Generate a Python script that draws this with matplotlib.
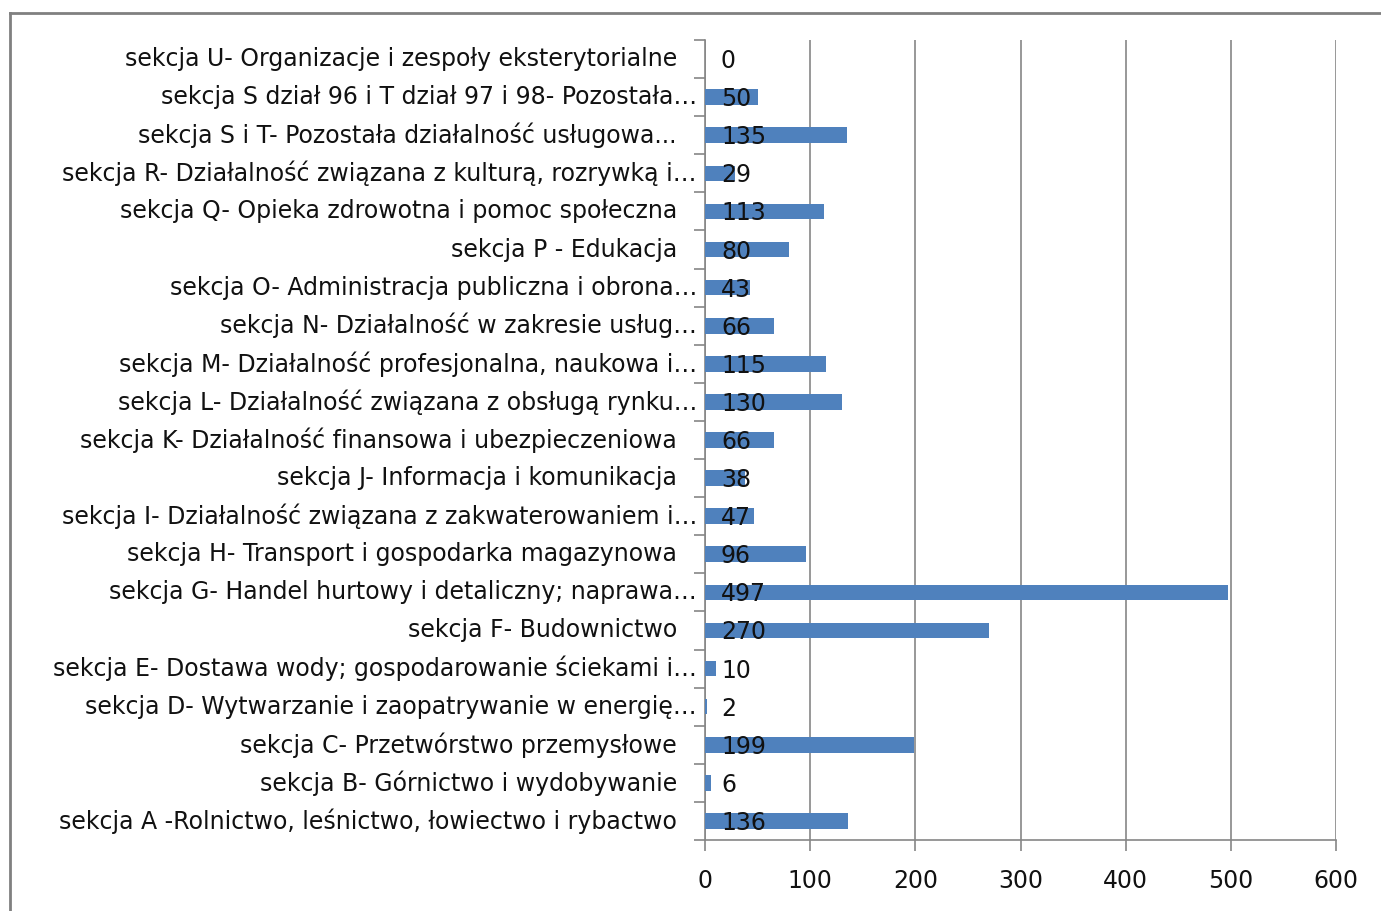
import matplotlib
matplotlib.use("Agg")
import matplotlib.pyplot as plt
from matplotlib.transforms import offset_copy, blended_transform_factory
from matplotlib.lines import Line2D

plt.rcParams['font.family'] = ['DejaVu Sans']

# categories listed bottom to top
categories = [
    "sekcja A -Rolnictwo, leśnictwo, łowiectwo i rybactwo",
    "sekcja B- Górnictwo i wydobywanie",
    "sekcja C- Przetwórstwo przemysłowe",
    "sekcja D- Wytwarzanie i zaopatrywanie w energię…",
    "sekcja E- Dostawa wody; gospodarowanie ściekami i…",
    "sekcja F- Budownictwo",
    "sekcja G- Handel hurtowy i detaliczny; naprawa…",
    "sekcja H- Transport i gospodarka magazynowa",
    "sekcja I- Działalność związana z zakwaterowaniem i…",
    "sekcja J- Informacja i komunikacja",
    "sekcja K- Działalność finansowa i ubezpieczeniowa",
    "sekcja L- Działalność związana z obsługą rynku…",
    "sekcja M- Działalność profesjonalna, naukowa i…",
    "sekcja N- Działalność w zakresie usług…",
    "sekcja O- Administracja publiczna i obrona…",
    "sekcja P - Edukacja",
    "sekcja Q- Opieka zdrowotna i pomoc społeczna",
    "sekcja R- Działalność związana z kulturą, rozrywką i…",
    "sekcja S i T- Pozostała działalność usługowa...",
    "sekcja S dział 96 i T dział 97 i 98- Pozostała…",
    "sekcja U- Organizacje i zespoły eksterytorialne",
]
values = [136, 6, 199, 2, 10, 270, 497, 96, 47, 38, 66, 130, 115, 66, 43, 80, 113, 29, 135, 50, 0]
xticks = [0, 100, 200, 300, 400, 500, 600]

W, H = 1381, 911
fig = plt.figure(figsize=(W / 100, H / 100), dpi=100)
ax = fig.add_axes([705 / W, (H - 840) / H, (1336 - 705) / W, 800 / H])

bar_color = '#4F81BD'
grid_color = '#868686'
text_color = '#111111'
fs = 17

ypos = list(range(len(categories)))
ax.barh(ypos, values, height=0.41, color=bar_color, zorder=3)

ax.set_xlim(0, 600)
ax.set_ylim(-0.5, len(categories) - 0.5)

# grid
ax.set_xticks(xticks)
ax.set_xticklabels([str(t) for t in xticks], fontsize=fs, color=text_color)
ax.grid(axis='x', color=grid_color, linewidth=1.2, zorder=0)
ax.tick_params(axis='x', direction='out', length=8, width=1.2, color=grid_color, pad=13)

# y ticks at category boundaries
ax.set_yticks([])
ax.set_yticks([i - 0.5 for i in range(len(categories) + 1)], minor=True)
ax.tick_params(axis='y', which='minor', direction='out', length=8, width=1.2, color=grid_color)
ax.tick_params(axis='y', which='major', length=0)

for s in ['top', 'right']:
    ax.spines[s].set_visible(False)
for s in ['left', 'bottom']:
    ax.spines[s].set_color(grid_color)
    ax.spines[s].set_linewidth(1.2)

# category labels
bt = blended_transform_factory(ax.transAxes, ax.transData)
for y, lab in zip(ypos, categories):
    dx = -8 if lab.endswith('…') else -28
    tr = offset_copy(bt, fig=fig, x=dx, y=0, units='dots')
    ax.text(0, y, lab, transform=tr, ha='right', va='center', fontsize=fs, color=text_color)

# value labels
for y, v in zip(ypos, values):
    tr = offset_copy(bt, fig=fig, x=16, y=-2, units='dots')
    ax.text(0, y, str(v), transform=tr, ha='left', va='center', fontsize=fs, color=text_color, zorder=4)

# outer frame
fig.add_artist(Line2D([10 / W, 10 / W], [0, 1 - 13 / H], transform=fig.transFigure, color='#808080', linewidth=2))
fig.add_artist(Line2D([10 / W, 1], [1 - 13 / H, 1 - 13 / H], transform=fig.transFigure, color='#808080', linewidth=2))

fig.savefig('out.png', dpi=100, facecolor='white')
